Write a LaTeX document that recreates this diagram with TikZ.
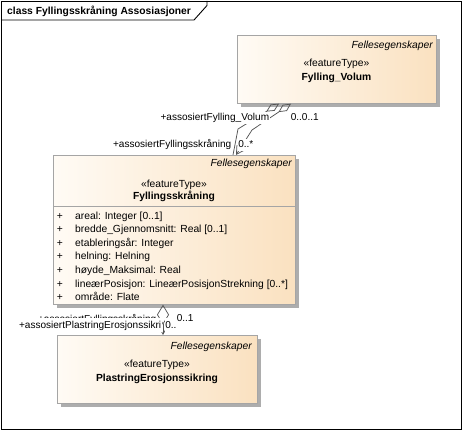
\documentclass[tikz,border=0pt]{standalone}
\usepackage{fontspec}
\setmainfont{Liberation Sans}
\usetikzlibrary{arrows.meta,shadows}
\definecolor{boxL}{RGB}{255,251,245}
\definecolor{boxR}{RGB}{250,225,192}
\definecolor{boxline}{RGB}{165,165,165}
\definecolor{lnk}{RGB}{85,85,85}
\tikzset{
  umlbox/.style={draw=boxline, line width=0.7pt, left color=boxL, right color=boxR,
    anchor=north west, inner sep=0pt,
    drop shadow={shadow xshift=3.5pt, shadow yshift=-3.5pt, fill=black!32, opacity=1}},
  txt/.style={inner sep=0pt, font=\fontsize{10.3}{12}\selectfont},
  boldtxt/.style={inner sep=0pt, font=\fontsize{10.3}{12}\selectfont\bfseries, anchor=base},
  stereo/.style={txt, anchor=base},
  pkgtxt/.style={inner sep=0pt, font=\fontsize{10.3}{12}\selectfont\itshape, anchor=base east},
  attr/.style={txt, anchor=base west},
  plus/.style={txt, anchor=base},
  lbl/.style={inner sep=0.6pt, fill=white, font=\fontsize{10.05}{12}\selectfont,
    text height=8.6pt, text depth=2.4pt},
  assoc/.style={draw=lnk, line width=0.75pt},
}
\begin{document}
\begin{tikzpicture}[x=1pt,y=-1pt]
\useasboundingbox (0,0) rectangle (462,430);
% frame
\draw[black, line width=0.9pt] (1,1) rectangle (461,429);
\draw[black, line width=0.9pt] (1,20) -- (194,20) -- (207,5.5) -- (207,1);
\node[inner sep=0pt, font=\fontsize{10.3}{12}\selectfont\bfseries, anchor=base west] (title) at (7,15) {class Fyllingsskråning Assosiasjoner};

% boxes
\node[umlbox, minimum width=199pt, minimum height=68pt] (vol) at (237,35) {};
\node[umlbox, minimum width=242pt, minimum height=149pt] (fyl) at (53,155) {};
\node[umlbox, minimum width=200pt, minimum height=68pt] (pla) at (57,335) {};
\draw[boxline, line width=0.7pt] ([yshift=-51pt]fyl.north west) -- ([yshift=-51pt]fyl.north east);

% top box text
\node[pkgtxt] (volpkg) at (433,49) {Fellesegenskaper};
\node[stereo] (volst) at (336.5,67) {«featureType»};
\node[boldtxt] (volname) at (336.5,81) {Fylling\_Volum};

% middle box text
\node[pkgtxt] (fylpkg) at (292,167) {Fellesegenskaper};
\node[stereo] (fylst) at (174,187) {«featureType»};
\node[boldtxt] (fylname) at (174,200) {Fyllingsskråning};
\node[plus] (p1) at (60,219) {+};
\node[attr] (a1) at (75,219) {areal: Integer [0..1]};
\node[plus] (p2) at (60,232.6) {+};
\node[attr] (a2) at (75,232.6) {bredde\_Gjennomsnitt: Real [0..1]};
\node[plus] (p3) at (60,246.2) {+};
\node[attr] (a3) at (75,246.2) {etableringsår: Integer};
\node[plus] (p4) at (60,259.8) {+};
\node[attr] (a4) at (75,259.8) {helning: Helning};
\node[plus] (p5) at (60,273.4) {+};
\node[attr] (a5) at (75,273.4) {høyde\_Maksimal: Real};
\node[plus] (p6) at (60,287) {+};
\node[attr] (a6) at (75,287) {lineærPosisjon: LineærPosisjonStrekning [0..*]};
\node[plus] (p7) at (60,300.6) {+};
\node[attr] (a7) at (75,300.6) {område: Flate};

% bottom box text
\node[pkgtxt] (plapkg) at (252,349) {Fellesegenskaper};
\node[stereo] (plast) at (157,367) {«featureType»};
\node[boldtxt] (planame) at (157,381) {PlastringErosjonssikring};

% connectors between Fylling_Volum and Fyllingsskråning
\coordinate (cA) at (238,129);
\coordinate (cB) at (252,130);
\draw[assoc, {Diamond[open,length=15pt,width=7.5pt]}-] ([xshift=42pt]vol.south west) -- (cA) -- ([xshift=180pt]fyl.north west);
\draw[assoc, {Diamond[open,length=15pt,width=7.5pt]}-{Straight Barb[length=8pt,width=9pt]}]
  ([xshift=54pt]vol.south west) -- (cB) -- ([xshift=183pt]fyl.north west);

% connector between Fyllingsskråning and PlastringErosjonssikring
\draw[assoc, {Diamond[open,length=20pt,width=12pt]}-{Straight Barb[length=8pt,width=9pt]}]
  ([xshift=110pt]fyl.south west) -- ([xshift=106pt]pla.north west);

% labels
\node[lbl, anchor=base east] (l1) at (270,121) {+assosiertFylling\_Volum};
\node[lbl, anchor=base west] (l2) at (290,121) {0..0..1};
\node[lbl, anchor=base east] (l3) at (232,148) {+assosiertFyllingsskråning};
\node[lbl, anchor=base west] (l4) at (237.5,148) {0..*};
\node[lbl, anchor=base east] (l5) at (157,322) {+assosiertFyllingsskråning};
\node[lbl, anchor=base west] (l6) at (176,321) {0..1};
\node[lbl, anchor=base east, text height=10pt] (l7) at (162,328.5) {+assosiertPlastringErosjonssikri};
\node[lbl, anchor=base west, text height=10pt] (l8) at (164.5,328.5) {0..};
\end{tikzpicture}
\end{document}
